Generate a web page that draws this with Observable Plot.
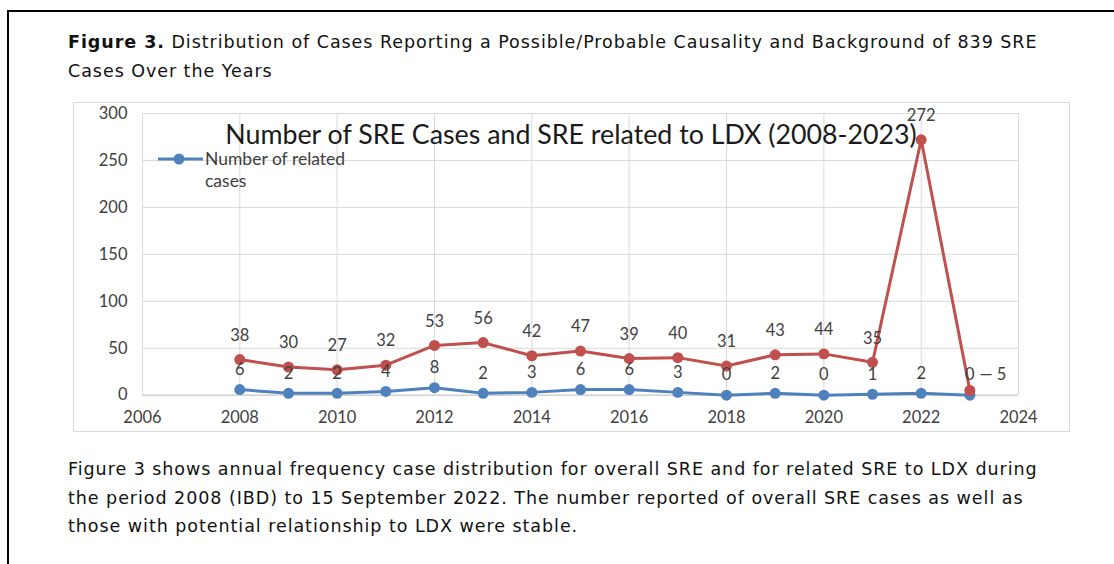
<!DOCTYPE html>
<html>
<head>
<meta charset="utf-8">
<script src="https://cdn.jsdelivr.net/npm/d3@7"></script>
<script src="https://cdn.jsdelivr.net/npm/@observablehq/plot@0.6"></script>
<style>
  html, body { margin: 0; padding: 0; background: #fff; }
  body { width: 1114px; height: 564px; overflow: hidden; position: relative; }
  #frame { position: absolute; left: 7px; top: 10px; width: 1200px; height: 700px;
           border-left: 2px solid #000; border-top: 2px solid #000; }
  .doc { position: absolute; left: 68px; font-family: "DejaVu Sans", Verdana, sans-serif;
         font-size: 17.5px; letter-spacing: 0.95px; color: #111; white-space: nowrap; }
  #title { top: 28px; line-height: 29px; }
  #caption { top: 455px; line-height: 28.5px; }
  #chartbox { position: absolute; left: 73px; top: 102px; width: 997px; height: 330px;
              border: 1px solid #d9d9d9; box-sizing: border-box; }
  #chart { position: absolute; left: -1px; top: -1px; }
  #legend { position: absolute; left: 84px; top: 45px; font-family: Lato, "Open Sans", sans-serif;
            font-size: 17.5px; color: #404040; line-height: 22px; }
  #legend svg { position: absolute; left: -1px; top: 3px; }
  #legend .t { position: absolute; left: 47px; top: 0; white-space: nowrap; }
</style>
</head>
<body>
<div id="frame"></div>
<div id="title" class="doc"><b>Figure 3.</b> Distribution of Cases Reporting a Possible/Probable Causality and Background of 839 SRE<br>Cases Over the Years</div>
<div id="chartbox">
  <div id="chart"></div>
  <div id="legend">
    <svg width="48" height="16"><line x1="1" y1="8" x2="46" y2="8" stroke="#4F81BD" stroke-width="3"></line><circle cx="22" cy="8" r="5.5" fill="#4F81BD"></circle></svg>
    <div class="t">Number of related<br>cases</div>
  </div>
</div>
<div id="caption" class="doc">Figure 3 shows annual frequency case distribution for overall SRE and for related SRE to LDX during<br>the period 2008 (IBD) to 15 September 2022. The number reported of overall SRE cases as well as<br>those with potential relationship to LDX were stable.</div>
<script>
const years = [2008, 2009, 2010, 2011, 2012, 2013, 2014, 2015, 2016, 2017, 2018, 2019, 2020, 2021, 2022, 2023];
const totalCases = [38, 30, 27, 32, 53, 56, 42, 47, 39, 40, 31, 43, 44, 35, 272, 5];
const relatedCases = [6, 2, 2, 4, 8, 2, 3, 6, 6, 3, 0, 2, 0, 1, 2, 0];
const xTicks = [2006, 2008, 2010, 2012, 2014, 2016, 2018, 2020, 2022, 2024];
const yTicks = [0, 50, 100, 150, 200, 250, 300];
const chartTitle = "Number of SRE Cases and SRE related to LDX (2008-2023)";

const total = years.map((y, i) => ({year: y, value: totalCases[i]}));
const related = years.map((y, i) => ({year: y, value: relatedCases[i]}));
const totalMain = total.slice(0, -1);
const totalLast = total.slice(-1);

const red = "#C0504D", blue = "#4F81BD";
const font = "Lato, 'Open Sans', sans-serif";

const plot = Plot.plot({
  width: 997,
  height: 330,
  marginLeft: 69,
  marginRight: 51,
  marginTop: 11,
  marginBottom: 37,
  style: {fontFamily: font, fontSize: "16px", color: "#404040", background: "transparent", overflow: "visible"},
  x: {domain: [2006, 2024], ticks: xTicks, tickFormat: "d", tickSize: 0, tickPadding: 16, label: null},
  y: {domain: [0, 300], ticks: yTicks, tickSize: 0, tickPadding: 15, label: null},
  marks: [
    Plot.gridX(xTicks, {stroke: "#d9d9d9", strokeOpacity: 1}),
    Plot.gridY(yTicks, {stroke: "#d9d9d9", strokeOpacity: 1}),
    Plot.ruleY([0], {stroke: "#c8c8c8"}),
    Plot.axisX({ticks: xTicks, tickFormat: "d", tickSize: 0, tickPadding: 16, fill: "#404040", fontSize: 16.5, label: null}),
    Plot.axisY({ticks: yTicks, tickSize: 0, tickPadding: 15, fill: "#404040", fontSize: 16.5, label: null}),
    Plot.text([chartTitle], {frameAnchor: "top", lineAnchor: "middle", dx: -9.5, dy: 22, fontSize: 26.8, fill: "#1a1a1a", fontFamily: font}),
    Plot.line(related, {x: "year", y: "value", stroke: blue, strokeWidth: 3}),
    Plot.dot(related, {x: "year", y: "value", fill: blue, r: 5.5}),
    Plot.line(total, {x: "year", y: "value", stroke: red, strokeWidth: 3}),
    Plot.dot(total, {x: "year", y: "value", fill: red, r: 5.5}),
    Plot.text(related, {x: "year", y: "value", text: "value", dy: -20, fontSize: 16.5, fill: "#404040"}),
    Plot.text(totalMain, {x: "year", y: "value", text: "value", dy: -24, fontSize: 16.5, fill: "#404040"}),
    Plot.text(totalLast, {x: "year", y: "value", text: d => "\u2014 " + d.value, dx: 23, dy: -16, fontSize: 16.5, fill: "#404040"})
  ]
});
document.getElementById("chart").appendChild(plot);
</script>
</body>
</html>
